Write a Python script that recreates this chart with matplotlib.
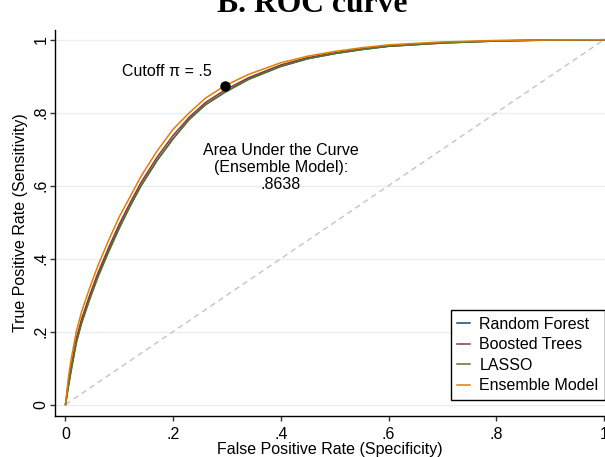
import numpy as np
import matplotlib
matplotlib.use('Agg')
import matplotlib.pyplot as plt

# DATA --->

# false positive rate (1 - specificity), shared by all four curves
fpr = [0, .005, .01, .02, .03, .045, .06, .08, .10, .12, .14, .17, .20,
       .23, .26, .296, .34, .40, .45, .50, .55, .60, .70, .80, .90, 1.0]

tpr_rf = [0, .048, .092, .171, .226, .291, .351, .421, .486, .544, .599, .669, .729,
          .782, .822, .856, .892, .927, .948, .962, .973, .982, .991, .9965, .9992, 1.0]
tpr_bt = [0, .055, .10, .18, .235, .30, .36, .43, .495, .553, .608, .678, .738,
          .788, .828, .862, .896, .931, .951, .964, .975, .983, .992, .997, .9993, 1.0]
tpr_lasso = [0, .045, .088, .168, .223, .288, .348, .418, .483, .544, .599, .669, .729,
             .782, .822, .856, .891, .927, .948, .962, .973, .982, .991, .9965, .999, 1.0]
tpr_ens = [0, .07, .12, .20, .255, .32, .38, .45, .515, .57, .625, .695, .755,
           .80, .84, .874, .905, .937, .955, .968, .978, .986, .994, .998, .9995, 1.0]

labels = ['Random Forest', 'Boosted Trees', 'LASSO', 'Ensemble Model']
colors = ['#1a476f', '#90353b', '#55752f', '#e37e00']

cutoff_fpr = .296
cutoff_tpr = .874
auc_ens = .8638

ticks = [0, .2, .4, .6, .8, 1]
tick_labels = ['0', '.2', '.4', '.6', '.8', '1']

# <--- DATA


# PLOT --->
plt.rcParams['font.family'] = ['Liberation Sans', 'DejaVu Sans']
fs = 11.5

fig = plt.figure(figsize=(6.05, 4.57), dpi=100)
ax = fig.add_axes([0.0917, 0.0897, 0.9083, 0.8446])

# grid lines
for t in ticks:
    ax.axhline(t, color='#e6eff1', lw=1.0, zorder=0)

# reference line
ax.plot([0, 1], [0, 1], color='#c4c4c4', lw=1.0, linestyle=(0, (4, 3)), zorder=1)

for y, lab, col in zip([tpr_rf, tpr_bt, tpr_lasso, tpr_ens], labels, colors):
    ax.plot(fpr, y, color=col, lw=1.1, label=lab, zorder=2)

ax.plot(cutoff_fpr, cutoff_tpr, 'o', color='black', ms=6.5, zorder=3)
ax.text(cutoff_fpr - .024, cutoff_tpr + .038, u'Cutoff \u03c0 = .5',
        ha='right', va='center', fontsize=fs)

ax.text(.40, .65, 'Area Under the Curve\n(Ensemble Model):\n' +
        ('%.4f' % auc_ens).lstrip('0'),
        ha='center', va='center', fontsize=fs, linespacing=1.15)

ax.set_xlim(-0.0186, 1.0019)
ax.set_ylim(-0.0315, 1.0266)

ax.set_xticks(ticks)
ax.set_xticklabels(tick_labels, fontsize=fs)
ax.set_yticks(ticks)
ax.set_yticklabels(tick_labels, fontsize=fs, rotation=90, va='center')
ax.tick_params(direction='out', length=3.6, width=1, color='#333333')
ax.tick_params(axis='x', pad=4.5)
ax.tick_params(axis='y', pad=1.5)

ax.spines['top'].set_visible(False)
ax.spines['right'].set_visible(False)
ax.spines['left'].set_linewidth(1)
ax.spines['bottom'].set_linewidth(1)

ax.set_xlabel('False Positive Rate (Specificity)', fontsize=fs, labelpad=0)
ax.set_ylabel('True Positive Rate (Sensitivity)', fontsize=fs, labelpad=4)

leg = ax.legend(loc='lower right', bbox_to_anchor=(1.0, 0.042),
                borderaxespad=0, fancybox=False, framealpha=1,
                edgecolor='black', fontsize=fs, handlelength=0.8,
                handletextpad=0.6, labelspacing=0.35, borderpad=0.4)
leg.get_frame().set_linewidth(1)

fig.text(0.516, 1 - 12 / 457., 'B. ROC curve', family='Liberation Serif',
         fontsize=22.8, fontweight='bold', ha='center', va='baseline')

fig.savefig('out.png', dpi=100)
plt.close(fig)

# <--- PLOT
